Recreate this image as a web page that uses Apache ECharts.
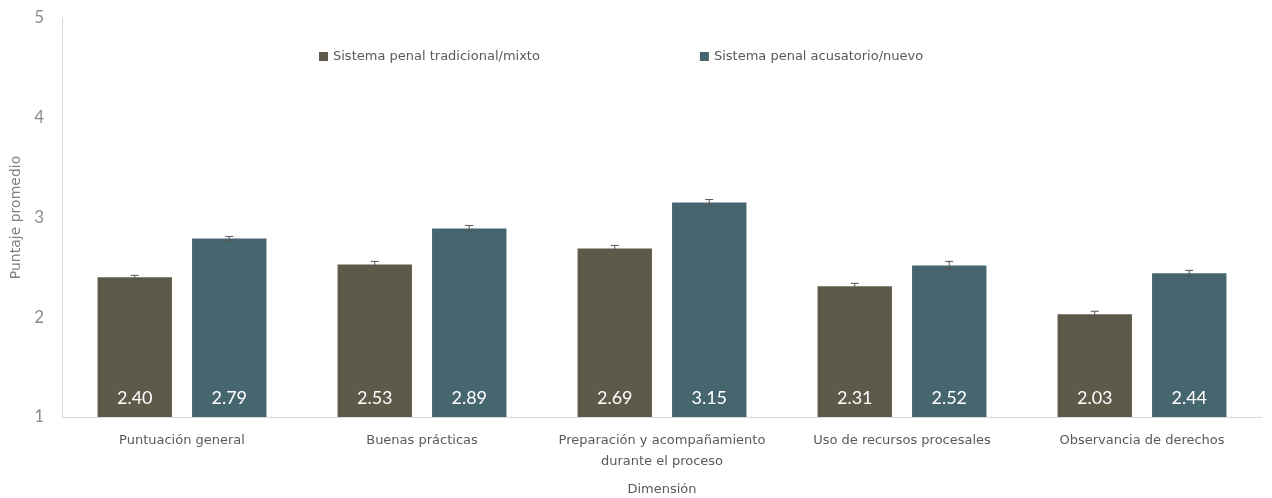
<!DOCTYPE html>
<html><head><meta charset="utf-8">
<script src="https://cdn.jsdelivr.net/npm/echarts@6/dist/echarts.min.js"></script>
<style>html,body{margin:0;padding:0;background:#fff}#c{width:1272px;height:498px}</style>
</head><body><div id="c"></div>
<script>
const categories = ['Puntuación general', 'Buenas prácticas', 'Preparación y acompañamiento\ndurante el proceso', 'Uso de recursos procesales', 'Observancia de derechos'];
const seriesNames = ['Sistema penal tradicional/mixto', 'Sistema penal acusatorio/nuevo'];
const tradicional = [2.40, 2.53, 2.69, 2.31, 2.03];
const acusatorio = [2.79, 2.89, 3.15, 2.52, 2.44];
const errTradicional = [0.02, 0.03, 0.03, 0.03, 0.03];
const errAcusatorio = [0.02, 0.03, 0.03, 0.04, 0.03];
const yTicks = [1, 2, 3, 4, 5];

const colors = ['#5d5a4a', '#46666f'];
const font = '"DejaVu Sans", sans-serif';
const numFont = 'Lato, "Noto Sans", sans-serif';
const barW = 0.31, gapPx = 0.27;

function errSeries(vals, errs, side) {
  return {
    type: 'custom', silent: true, z: 5,
    data: vals.map((v, i) => [i, v, errs[i]]),
    renderItem: function (params, api) {
      const band = api.size([1, 0])[0];
      const w = band * barW;
      const off = (w / 2 + w * gapPx / 2) * side;
      const hi = api.coord([api.value(0), api.value(1) + api.value(2)]);
      const lo = api.coord([api.value(0), api.value(1) - api.value(2)]);
      const x = hi[0] + off;
      const cap = 4;
      const st = { stroke: '#555', lineWidth: 1 };
      return { type: 'group', children: [
        { type: 'line', shape: { x1: x, y1: hi[1], x2: x, y2: lo[1] }, style: st },
        { type: 'line', shape: { x1: x - cap, y1: hi[1], x2: x + cap, y2: hi[1] }, style: st },
        { type: 'line', shape: { x1: x - cap, y1: lo[1], x2: x + cap, y2: lo[1] }, style: st }
      ]};
    }
  };
}

const barLabel = { show: true, position: 'insideBottom', distance: 10, color: '#fff', fontSize: 18, fontFamily: numFont, formatter: p => p.value.toFixed(2) };

const chart = echarts.init(document.getElementById('c'));
chart.setOption({
  animation: false,
  color: colors,
  legend: {
    data: seriesNames, top: 45, left: 314, itemGap: 160, itemWidth: 9, itemHeight: 9, icon: 'rect',
    textStyle: { color: '#595959', fontSize: 13, fontFamily: font }
  },
  grid: { left: 62, right: 10, top: 18, bottom: 81, outerBoundsMode: 'none', containLabel: false },
  xAxis: {
    type: 'category', data: categories,
    name: 'Dimensión', nameLocation: 'middle', nameGap: 66,
    nameTextStyle: { color: '#595959', fontSize: 13, fontFamily: font },
    axisLine: { lineStyle: { color: '#d9d9d9' } }, axisTick: { show: false },
    axisLabel: { color: '#595959', fontSize: 13, fontFamily: font, margin: 13, lineHeight: 21, interval: 0 }
  },
  yAxis: {
    type: 'value', min: yTicks[0], max: yTicks[yTicks.length - 1], interval: 1,
    name: 'Puntaje promedio', nameLocation: 'middle', nameGap: 38,
    nameTextStyle: { color: '#7f7f7f', fontSize: 14, fontFamily: font },
    axisLine: { show: true, lineStyle: { color: '#d9d9d9' } }, axisTick: { show: false },
    splitLine: { show: false },
    axisLabel: { color: '#8c8c8c', fontSize: 17, fontFamily: numFont, margin: 18 }
  },
  series: [
    { name: seriesNames[0], type: 'bar', data: tradicional, barWidth: (barW * 100) + '%', barGap: (gapPx * 100) + '%', label: barLabel, itemStyle: { color: colors[0] } },
    { name: seriesNames[1], type: 'bar', data: acusatorio, barWidth: (barW * 100) + '%', barGap: (gapPx * 100) + '%', label: barLabel, itemStyle: { color: colors[1] } },
    errSeries(tradicional, errTradicional, -1),
    errSeries(acusatorio, errAcusatorio, 1)
  ]
});
</script></body></html>
